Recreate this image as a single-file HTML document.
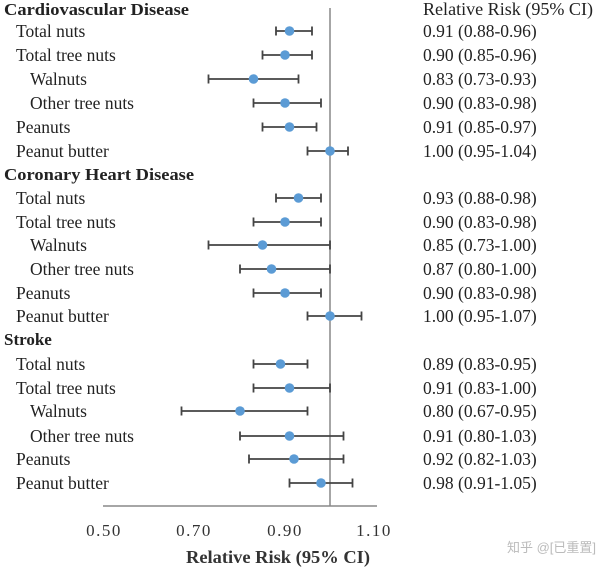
<!DOCTYPE html>
<html><head><meta charset="utf-8"><style>
html,body{margin:0;padding:0;background:#fff;}
svg{display:block;}
text{font-family:"Liberation Serif",serif;fill:#222;}
.h{font-weight:bold;font-size:17px;}
.l{font-size:17.5px;}
.r{font-size:17.5px;}
.e{stroke:#444;stroke-width:1.8;fill:none;}
.d{fill:#5b9bd5;}
</style></head><body>
<svg width="600" height="574" viewBox="0 0 600 574">
<line x1="330" y1="8" x2="330" y2="506" stroke="#888" stroke-width="1.5"/>
<line x1="103" y1="506" x2="377" y2="506" stroke="#888" stroke-width="1.5"/>
<text class="r" x="423" y="15" textLength="170" lengthAdjust="spacingAndGlyphs">Relative Risk (95% CI)</text>

<text class="h" x="4" y="15" textLength="185" lengthAdjust="spacingAndGlyphs">Cardiovascular Disease</text>
<text class="h" x="4" y="180" textLength="190" lengthAdjust="spacingAndGlyphs">Coronary Heart Disease</text>
<text class="h" x="4" y="345">Stroke</text>

<g id="rows"></g>

<text x="104" y="536" text-anchor="middle" style="font-size:17px;letter-spacing:1.5px;fill:#333">0.50</text>
<text x="194" y="536" text-anchor="middle" style="font-size:17px;letter-spacing:1.5px;fill:#333">0.70</text>
<text x="285" y="536" text-anchor="middle" style="font-size:17px;letter-spacing:1.5px;fill:#333">0.90</text>
<text x="374" y="536" text-anchor="middle" style="font-size:17px;letter-spacing:1.5px;fill:#333">1.10</text>
<text x="278" y="563" text-anchor="middle" textLength="184" lengthAdjust="spacingAndGlyphs" style="font-size:18px;font-weight:bold;fill:#333">Relative Risk (95% CI)</text>
<text x="596" y="552" text-anchor="end" style="font-size:13px;fill:#bbb;font-family:'Liberation Sans','Noto Sans CJK SC',sans-serif">知乎 @[已重置]</text>
</svg>
<script>
var rows=[
[31,16,"Total nuts",.91,.88,.96,"0.91 (0.88-0.96)"],
[55,16,"Total tree nuts",.90,.85,.96,"0.90 (0.85-0.96)"],
[79,30,"Walnuts",.83,.73,.93,"0.83 (0.73-0.93)"],
[103,30,"Other tree nuts",.90,.83,.98,"0.90 (0.83-0.98)"],
[127,16,"Peanuts",.91,.85,.97,"0.91 (0.85-0.97)"],
[151,16,"Peanut butter",1.00,.95,1.04,"1.00 (0.95-1.04)"],
[198,16,"Total nuts",.93,.88,.98,"0.93 (0.88-0.98)"],
[222,16,"Total tree nuts",.90,.83,.98,"0.90 (0.83-0.98)"],
[245,30,"Walnuts",.85,.73,1.00,"0.85 (0.73-1.00)"],
[269,30,"Other tree nuts",.87,.80,1.00,"0.87 (0.80-1.00)"],
[293,16,"Peanuts",.90,.83,.98,"0.90 (0.83-0.98)"],
[316,16,"Peanut butter",1.00,.95,1.07,"1.00 (0.95-1.07)"],
[364,16,"Total nuts",.89,.83,.95,"0.89 (0.83-0.95)"],
[388,16,"Total tree nuts",.91,.83,1.00,"0.91 (0.83-1.00)"],
[411,30,"Walnuts",.80,.67,.95,"0.80 (0.67-0.95)"],
[436,30,"Other tree nuts",.91,.80,1.03,"0.91 (0.80-1.03)"],
[459,16,"Peanuts",.92,.82,1.03,"0.92 (0.82-1.03)"],
[483,16,"Peanut butter",.98,.91,1.05,"0.98 (0.91-1.05)"]];
var g=document.getElementById('rows'),h="";
function X(v){return 330+450*(v-1);}
rows.forEach(function(r){
var y=r[0],a=X(r[4]),b=X(r[5]),c=X(r[3]);
h+='<text class="l" x="'+r[1]+'" y="'+(y+6)+'">'+r[2]+'</text>';
h+='<text class="r" x="423" y="'+(y+6)+'">'+r[6]+'</text>';
h+='<path class="e" d="M'+a+' '+y+'H'+b+'M'+a+' '+(y-4.5)+'V'+(y+4.5)+'M'+b+' '+(y-4.5)+'V'+(y+4.5)+'"/>';
h+='<circle class="d" cx="'+c+'" cy="'+y+'" r="4.8"/>';
});
g.innerHTML=h;
</script>
</body></html>
